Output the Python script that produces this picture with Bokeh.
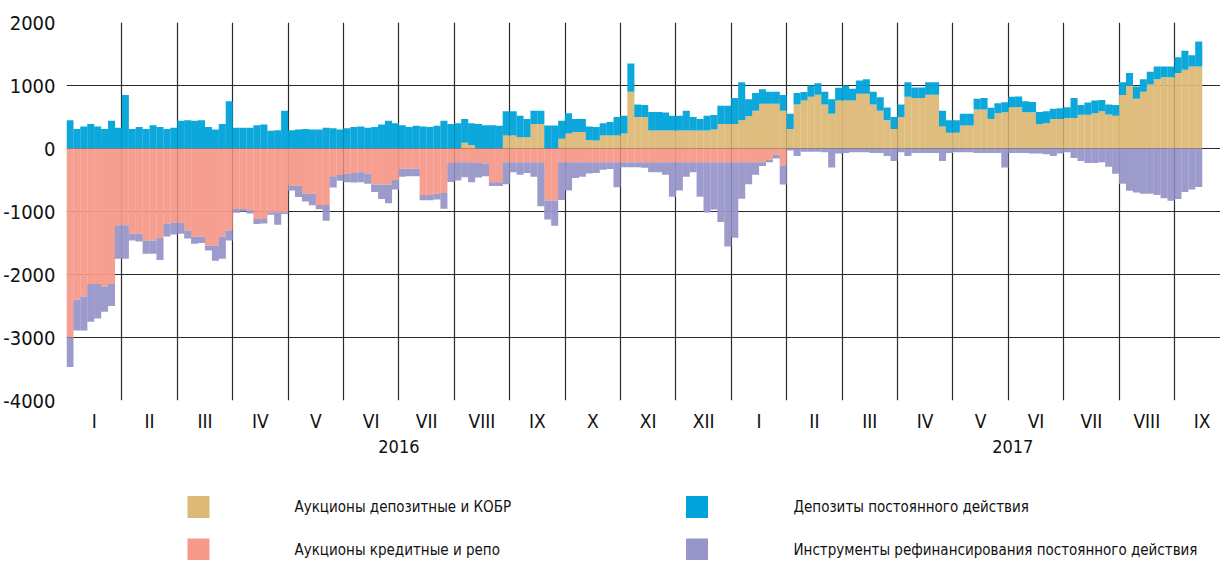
import numpy as np
from bokeh.plotting import figure
from bokeh.models import (ColumnDataSource, FixedTicker, LinearAxis, Range1d,
                          CustomJSTickFormatter)
from bokeh.layouts import column
from bokeh.embed import file_html
from bokeh.resources import INLINE
from bokeh.core.properties import value

FONT = "'DejaVu Sans Condensed', 'Liberation Sans Narrow', Roboto, sans-serif"

# ---------------- data (bln RUB), 8 sub-periods per month, Jan 2016 .. mid Sep 2017
SLOTS_PER_MONTH = 8

month_labels = ["I", "II", "III", "IV", "V", "VI", "VII", "VIII", "IX", "X", "XI", "XII",
                "I", "II", "III", "IV", "V", "VI", "VII", "VIII", "IX"]
year_labels = ["2016", "2017"]
year_positions = [6.0, 17.08]
y_ticks = [-4000, -3000, -2000, -1000, 0, 1000, 2000]

series_names = ["Аукционы депозитные и КОБР", "Депозиты постоянного действия",
                "Аукционы кредитные и репо", "Инструменты рефинансирования постоянного действия"]

# deposit auctions and KOBR (positive)
dep_auctions = [
    0, 0, 0, 0, 0, 0, 0, 0,                      # Jan 16
    0, 0, 0, 0, 0, 0, 0, 0,                      # Feb
    0, 0, 0, 0, 0, 0, 0, 0,                      # Mar
    0, 0, 0, 0, 0, 0, 0, 0,                      # Apr
    0, 0, 0, 0, 0, 0, 0, 0,                      # May
    0, 0, 0, 0, 0, 0, 0, 0,                      # Jun
    0, 0, 0, 0, 0, 0, 0, 0,                      # Jul
    0, 90, 50, 0, 0, 0, 0, 205,                  # Aug
    205, 180, 180, 390, 390, 0, 0, 155,          # Sep
    240, 260, 260, 130, 127, 205, 205, 205,      # Oct
    240, 900, 500, 500, 285, 285, 285, 285,      # Nov
    285, 285, 285, 285, 285, 300, 390, 390,      # Dec
    390, 450, 510, 600, 710, 710, 710, 600,      # Jan 17
    310, 700, 760, 820, 855, 700, 550, 760,      # Feb
    760, 760, 870, 870, 700, 600, 450, 310,      # Mar
    500, 820, 800, 800, 855, 855, 350, 250,      # Apr
    250, 365, 365, 620, 620, 470, 560, 575,      # May
    655, 655, 575, 575, 390, 400, 470, 470,      # Jun
    485, 485, 535, 535, 560, 590, 540, 520,      # Jul
    850, 1000, 790, 900, 1015, 1100, 1130, 1130, # Aug
    1200, 1250, 1300, 1300,                      # Sep
]

# standing deposit facility (positive, stacked on auctions)
dep_standing = [
    450, 310, 350, 390, 350, 310, 440, 330,      # Jan 16
    850, 310, 340, 310, 370, 340, 310, 330,      # Feb
    440, 450, 440, 450, 340, 300, 390, 750,      # Mar
    330, 330, 330, 370, 380, 280, 290, 600,      # Apr
    290, 300, 310, 300, 300, 330, 320, 300,      # May
    320, 340, 350, 330, 340, 380, 440, 400,      # Jun
    370, 340, 360, 350, 340, 360, 440, 390,      # Jul
    400, 380, 350, 390, 370, 370, 360, 385,      # Aug
    385, 340, 290, 210, 210, 365, 365, 285,      # Sep
    320, 210, 210, 220, 213, 195, 215, 295,      # Oct
    280, 450, 200, 190, 295, 295, 285, 235,      # Nov
    235, 315, 215, 185, 235, 230, 290, 290,      # Dec
    410, 600, 270, 280, 230, 190, 190, 250,      # Jan 17
    240, 180, 135, 180, 180, 200, 230, 205,      # Feb
    240, 190, 210, 230, 200, 215, 200, 190,      # Mar
    200, 230, 170, 170, 195, 195, 250, 200,      # Apr
    200, 185, 185, 170, 180, 175, 160, 160,      # May
    165, 170, 175, 165, 190, 190, 160, 170,      # Jun
    170, 315, 155, 195, 200, 180, 160, 170,      # Jul
    200, 200, 195, 200, 205, 200, 170, 170,      # Aug
    250, 300, 180, 400,                          # Sep
]

# credit auctions and repo (shown below zero)
cred_auctions = [
    3000, 2400, 2350, 2150, 2150, 2190, 2150, 1220,  # Jan 16
    1220, 1355, 1355, 1460, 1460, 1420, 1195, 1180,  # Feb
    1180, 1300, 1400, 1400, 1540, 1540, 1400, 1300,  # Mar
    960, 960, 980, 1120, 1120, 1010, 1010, 1010,     # Apr
    590, 590, 720, 720, 895, 895, 440, 420,          # May
    400, 390, 375, 400, 570, 570, 570, 500,          # Jun
    320, 320, 320, 740, 740, 720, 705, 230,          # Jul
    217, 217, 217, 230, 240, 535, 535, 217,          # Aug
    217, 217, 217, 217, 217, 825, 825, 217,          # Sep
    217, 217, 217, 217, 217, 217, 217, 217,          # Oct
    217, 217, 217, 217, 217, 217, 217, 217,          # Nov
    217, 217, 217, 217, 217, 217, 217, 217,          # Dec
    217, 217, 217, 217, 217, 180, 100, 270,          # Jan 17
    0, 0, 0, 0, 0, 0, 0, 0,                          # Feb
    0, 0, 0, 0, 0, 0, 0, 0,                          # Mar
    0, 0, 0, 0, 0, 0, 0, 0,                          # Apr
    0, 0, 0, 0, 0, 0, 0, 0,                          # May
    0, 0, 0, 0, 0, 0, 0, 0,                          # Jun
    0, 0, 0, 0, 0, 0, 0, 0,                          # Jul
    0, 0, 0, 0, 0, 0, 0, 0,                          # Aug
    0, 0, 0, 0,                                      # Sep
]

# standing refinancing facilities (below credit auctions)
refi_standing = [
    470, 490, 540, 600, 550, 400, 350, 530,      # Jan 16
    530, 105, 120, 210, 210, 350, 200, 185,      # Feb
    175, 130, 110, 100, 80, 240, 350, 160,       # Mar
    60, 40, 50, 80, 70, 40, 200, 30,             # Apr
    75, 180, 120, 180, 70, 250, 180, 90,         # May
    135, 150, 160, 160, 120, 230, 300, 150,      # Jun
    130, 120, 120, 80, 80, 90, 250, 300,         # Jul
    290, 240, 320, 230, 200, 60, 60, 350,        # Aug
    160, 200, 170, 230, 700, 300, 400, 600,      # Sep
    450, 250, 230, 180, 170, 120, 110, 400,      # Oct
    80, 80, 80, 90, 160, 160, 200, 550,          # Nov
    450, 230, 160, 550, 800, 750, 950, 1340,     # Dec
    1200, 580, 350, 200, 60, 40, 60, 300,        # Jan 17
    30, 120, 50, 50, 50, 60, 300, 80,            # Feb
    70, 60, 60, 60, 70, 70, 120, 200,            # Mar
    60, 120, 70, 70, 70, 70, 200, 70,            # Apr
    60, 60, 60, 70, 70, 70, 70, 300,             # May
    70, 70, 70, 80, 80, 90, 120, 80,             # Jun
    60, 150, 200, 230, 230, 220, 290, 400,       # Jul
    560, 670, 700, 720, 720, 740, 790, 830,      # Aug
    800, 690, 650, 610,                          # Sep
]

colors = ["#DDB978", "#00A3D9", "#F59A8A", "#9896C9"]

# ---------------- build
n = len(dep_auctions)
x = (np.arange(n) + 0.5) / SLOTS_PER_MONTH
src = ColumnDataSource(dict(
    x=x,
    dep_auc=np.array(dep_auctions, float),
    dep_sf=np.array(dep_standing, float),
    cred_auc=-np.array(cred_auctions, float),
    refi=-np.array(refi_standing, float),
))

LEFT = 66
FRAME_W = 1154
MONTH_PX = 55.4
p = figure(frame_width=FRAME_W, frame_height=378, output_backend="svg",
           toolbar_location=None, x_range=Range1d(0, FRAME_W / MONTH_PX),
           y_range=Range1d(-4000, 2000), min_border_left=LEFT, min_border_top=22,
           min_border_right=0, min_border_bottom=80, background_fill_color="white",
           border_fill_color="white")
p.outline_line_color = None

bw = 1.0 / SLOTS_PER_MONTH * 1.02
p.vbar_stack(["dep_auc", "dep_sf"], x="x", width=bw, source=src,
             fill_color=colors[:2], line_color=None, fill_alpha=0.95)
p.vbar_stack(["cred_auc", "refi"], x="x", width=bw, source=src,
             fill_color=colors[2:], line_color=None, fill_alpha=0.95)

# grids
p.xgrid.ticker = FixedTicker(ticks=list(range(0, 21)))
p.ygrid.ticker = FixedTicker(ticks=y_ticks)
for g in (p.xgrid, p.ygrid):
    g.grid_line_color = "#2a2a2a"
    g.grid_line_width = 1.2

# y axis
ya = p.yaxis[0]
ya.ticker = FixedTicker(ticks=y_ticks)
ya.formatter = CustomJSTickFormatter(code="return tick.toFixed(0);")
ya.axis_line_color = None
ya.major_tick_line_color = None
ya.minor_tick_line_color = None
ya.major_label_text_font = FONT
ya.major_label_text_font_size = "20px"
ya.major_label_text_color = "#111111"
ya.major_label_standoff = 5

# x axis: month numerals
xa = p.xaxis[0]
xa.ticker = FixedTicker(ticks=[m + 0.5 for m in range(len(month_labels))])
xa.formatter = CustomJSTickFormatter(args=dict(labels=month_labels),
                                     code="return labels[Math.floor(tick)];")
xa.axis_line_color = None
xa.major_tick_line_color = None
xa.minor_tick_line_color = None
xa.major_label_text_font = FONT
xa.major_label_text_font_size = "19px"
xa.major_label_text_color = "#111111"
xa.major_label_standoff = 3

# second x axis: years
xa2 = LinearAxis(ticker=FixedTicker(ticks=year_positions),
                 formatter=CustomJSTickFormatter(args=dict(labels=year_labels),
                                                 code="return tick < 12 ? labels[0] : labels[1];"))
xa2.axis_line_color = None
xa2.major_tick_line_color = None
xa2.minor_tick_line_color = None
xa2.major_label_text_font = FONT
xa2.major_label_text_font_size = "18px"
xa2.major_label_text_color = "#111111"
xa2.major_label_standoff = -1
p.add_layout(xa2, "below")

# ---------------- legend as separate figure (frame aligned with main frame)
LEG_H = 80
leg = figure(width=LEFT + FRAME_W, height=LEG_H, output_backend="svg", toolbar_location=None,
             x_range=Range1d(LEFT, LEFT + FRAME_W), y_range=Range1d(LEG_H, 0),
             min_border_left=LEFT, min_border_right=0, min_border_top=0,
             min_border_bottom=0, background_fill_color="white", border_fill_color="white")
leg.outline_line_color = None
leg.xaxis.visible = False
leg.yaxis.visible = False
leg.xgrid.visible = False
leg.ygrid.visible = False

leg_src = ColumnDataSource(dict(
    sx=[198, 696.5, 198, 696.5],
    sy=[26.5, 26.5, 69, 69],
    tx=[294, 793, 294, 793],
    label=[series_names[0], series_names[1], series_names[2], series_names[3]],
    color=[colors[0], colors[1], colors[2], colors[3]],
))
leg.rect(x="sx", y="sy", width=22, height=22, fill_color="color", line_color=None,
         source=leg_src)
leg.text(x="tx", y="sy", text="label", source=leg_src, text_font=value(FONT),
         text_font_size="15px", text_baseline="middle", text_align="left",
         text_color="#111111")

layout = column(p, leg, spacing=0)
open("out.html", "w").write(file_html(layout, INLINE))
